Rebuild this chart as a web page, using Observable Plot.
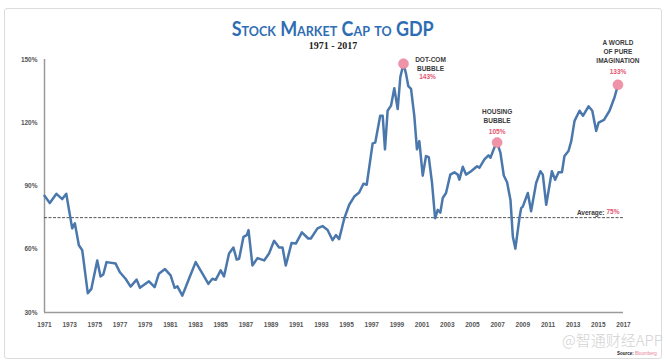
<!DOCTYPE html>
<html>
<head>
<meta charset="utf-8">
<script src="https://cdn.jsdelivr.net/npm/d3@7"></script>
<script src="https://cdn.jsdelivr.net/npm/@observablehq/plot@0.6"></script>
<style>
  html, body { margin: 0; padding: 0; background: #fff; }
  #wrap { position: relative; width: 666px; height: 363px; overflow: hidden; background: #fff; }
  #frame { position: absolute; left: 4px; top: 8px; width: 656px; height: 349px; border: 1.5px solid #dcdcdc; border-radius: 3px; }
  #title { position: absolute; left: 0; width: 666px; top: 15.5px; height: 24px; text-align: center;
    font-family: Lato, sans-serif; font-weight: 700; font-size: 20px; font-variant: small-caps;
    color: #2f6db3; line-height: 24px; white-space: nowrap; }
  #title span { display: inline-block; transform-origin: center; }
  #subtitle { position: absolute; left: 0; width: 666px; top: 39.6px; height: 11px; text-align: center;
    font-family: "Liberation Serif", serif; font-weight: bold; font-size: 10px; color: #222; line-height: 11px; }
  #chart { position: absolute; left: 0; top: 0; }
  #watermark { position: absolute; left: 562px; top: 332px; font-family: "Noto Sans CJK SC", sans-serif;
    font-size: 15px; color: #d2d2d2; font-weight: 300; line-height: 1; white-space: nowrap; }
  #source { position: absolute; left: 617px; top: 352px; font-family: "Liberation Sans", sans-serif;
    font-size: 4.5px; line-height: 1; white-space: nowrap; color: #222; font-weight: bold; }
  #source b { color: #e87d96; font-weight: normal; }
</style>
</head>
<body>
<div id="wrap">
  <div id="frame"></div>
  <div id="chart"></div>
  <div id="title"><span>Stock Market Cap to GDP</span></div>
  <div id="subtitle">1971 - 2017</div>
  <div id="watermark">@智通财经APP</div>
  <div id="source">Source: <b>Bloomberg</b></div>
</div>
<script>
// ---- data ----
const years = [
  1971.00, 1971.42, 1971.95, 1972.41, 1972.73, 1973.20, 1973.41, 1973.73, 1974.00, 1974.44,
  1974.72, 1975.19, 1975.45, 1975.67, 1975.93, 1976.65, 1976.99, 1977.44, 1977.84, 1978.32,
  1978.58, 1979.30, 1979.75, 1980.09, 1980.57, 1981.02, 1981.34, 1981.56, 1981.95, 1982.48,
  1983.01, 1983.55, 1984.02, 1984.34, 1984.60, 1985.00, 1985.26, 1985.66, 1986.01, 1986.27,
  1986.46, 1986.81, 1987.07, 1987.21, 1987.52, 1987.92, 1988.45, 1988.84, 1989.24, 1989.64,
  1989.91, 1990.17, 1990.63, 1990.97, 1991.45, 1991.95, 1992.16, 1992.69, 1993.09, 1993.49,
  1993.89, 1994.15, 1994.41, 1994.81, 1995.21, 1995.61, 1996.00, 1996.34, 1996.60, 1997.07,
  1997.28, 1997.67, 1997.87, 1998.05, 1998.26, 1998.53, 1998.79, 1999.06, 1999.27, 1999.52,
  1999.72, 1999.90, 2000.12, 2000.38, 2000.59, 2000.78, 2001.05, 2001.31, 2001.53, 2001.79,
  2002.03, 2002.24, 2002.45, 2002.64, 2002.90, 2003.24, 2003.56, 2003.83, 2003.96, 2004.23,
  2004.49, 2004.89, 2005.37, 2005.55, 2005.95, 2006.27, 2006.43, 2006.74, 2006.96, 2007.22,
  2007.49, 2007.75, 2008.02, 2008.21, 2008.41, 2008.73, 2008.87, 2009.00, 2009.40, 2009.66,
  2010.06, 2010.40, 2010.59, 2010.86, 2011.31, 2011.57, 2011.84, 2012.11, 2012.31, 2012.63,
  2012.85, 2013.11, 2013.51, 2013.78, 2014.22, 2014.52, 2014.83, 2015.02, 2015.45, 2015.89,
  2016.29, 2016.56
];
const ratio = [
  85.4, 81.9, 86.3, 83.8, 86.3, 69.9, 72.3, 61.9, 59.5, 39.1,
  41.2, 54.7, 47.1, 48.0, 53.9, 53.2, 49.1, 46.0, 42.3, 45.6,
  41.7, 44.8, 42.0, 48.4, 50.6, 47.6, 41.7, 42.4, 38.0, 46.0,
  53.9, 48.4, 43.6, 46.0, 45.5, 50.0, 47.1, 58.0, 60.8, 55.1,
  55.5, 65.9, 66.7, 69.1, 52.3, 55.8, 54.7, 58.0, 64.0, 60.8,
  60.8, 52.3, 63.0, 62.7, 68.0, 65.1, 65.1, 69.9, 71.0, 69.1,
  64.3, 66.7, 64.8, 74.5, 81.1, 85.0, 86.9, 91.1, 90.6, 110.2,
  110.6, 123.3, 123.3, 107.4, 125.7, 128.1, 136.4, 126.5, 141.7, 148.0,
  143.3, 137.4, 136.1, 123.3, 107.4, 111.3, 94.9, 104.2, 103.7, 91.4,
  74.7, 78.7, 77.4, 84.3, 86.7, 95.4, 96.5, 95.4, 93.0, 99.1,
  95.4, 97.0, 99.4, 98.6, 102.6, 104.5, 103.4, 108.2, 110.6, 105.8,
  95.0, 91.8, 83.4, 65.9, 60.3, 74.7, 79.5, 80.2, 86.7, 78.0,
  91.4, 97.0, 95.4, 81.1, 97.0, 93.0, 96.5, 96.5, 104.2, 106.6,
  111.3, 120.9, 125.7, 123.3, 127.8, 125.7, 116.1, 120.1, 121.4, 125.7,
  132.1, 138.0
];
const average = 75;
const yTicks = [30, 60, 90, 120, 150];
const xTicks = d3.range(1971, 2018, 2);
const peakYears = [1999.52, 2006.96, 2016.56];
const peakLabels = ["DOT-COM\nBUBBLE", "HOUSING\nBUBBLE", "A WORLD\nOF PURE\nIMAGINATION"];
const peakValues = ["143%", "105%", "133%"];

// ---- build tables ----
const series = years.map((y, i) => ({year: y, value: ratio[i]}));
const peaks = peakYears.map((py, i) => {
  const p = series.find(d => d.year === py);
  return {year: p.year, value: p.value, label: peakLabels[i], pct: peakValues[i]};
});

const labelStyle = {fontSize: 6.5, fontWeight: "bold", fill: "#3a3a3a", lineHeight: 1.4, fontFamily: "Liberation Sans, Arial, sans-serif"};
const pctStyle = {fontSize: 6.5, fontWeight: "bold", fill: "#e4566f", fontFamily: "Liberation Sans, Arial, sans-serif"};

const chart = Plot.plot({
  width: 666,
  height: 363,
  marginLeft: 44,
  marginRight: 43,
  marginTop: 59,
  marginBottom: 51,
  x: {domain: [1971, 2017]},
  y: {domain: [30, 150]},
  style: {background: "transparent", fontFamily: "Liberation Sans, Arial, sans-serif", fontSize: "6.5px", overflow: "visible"},
  marks: [
    Plot.axisY({ticks: yTicks, tickFormat: d => d + "%", tickSize: 0, tickPadding: 7, label: null, fontWeight: "bold", color: "#555"}),
    Plot.axisX({ticks: xTicks, tickFormat: d => String(d), tickSize: 0, tickPadding: 10, label: null, fontWeight: "bold", color: "#555"}),
    Plot.ruleX([1971], {y1: 30, y2: 150, stroke: "#9a9a9a", strokeWidth: 1.5}),
    Plot.ruleY([30], {x1: 1971, x2: 2017, stroke: "#9a9a9a", strokeWidth: 1.5}),
    Plot.ruleY([average], {x1: 1971, x2: 2017, stroke: "#555", strokeWidth: 1, strokeDasharray: "3,1.5"}),
    Plot.line(series, {x: "year", y: "value", stroke: "#4a78ac", strokeWidth: 2.5, strokeLinejoin: "round", strokeLinecap: "round"}),
    Plot.dot(peaks, {x: "year", y: "value", r: 5, fill: "#ee93a8", stroke: "#e9839a", strokeWidth: 0.5}),
    // annotation labels
    Plot.text([peaks[0]], {x: "year", y: "value", text: "label", dx: 27, dy: 0, ...labelStyle}),
    Plot.text([peaks[0]], {x: "year", y: "value", text: "pct", dx: 24, dy: 13, ...pctStyle}),
    Plot.text([peaks[1]], {x: "year", y: "value", text: "label", dx: 0, dy: -27, ...labelStyle}),
    Plot.text([peaks[1]], {x: "year", y: "value", text: "pct", dx: 0, dy: -11, ...pctStyle}),
    Plot.text([peaks[2]], {x: "year", y: "value", text: "label", dx: 0, dy: -34, ...labelStyle}),
    Plot.text([peaks[2]], {x: "year", y: "value", text: "pct", dx: 0, dy: -13, ...pctStyle}),
    // average label
    Plot.text([average], {x: 2017, y: d => d, text: d => d + "%", textAnchor: "end", dx: -4, dy: -6, ...pctStyle}),
    Plot.text([average], {x: 2017, y: d => d, text: () => "Average:", textAnchor: "end", dx: -19, dy: -6, ...labelStyle})
  ]
});
document.getElementById("chart").appendChild(chart);

// fit title width to the reference (~200px)
const t = document.querySelector("#title span");
const w = t.getBoundingClientRect().width;
if (w > 0) t.style.transform = `scaleX(${Math.min(1, 202 / w)})`;
</script>
</body>
</html>
